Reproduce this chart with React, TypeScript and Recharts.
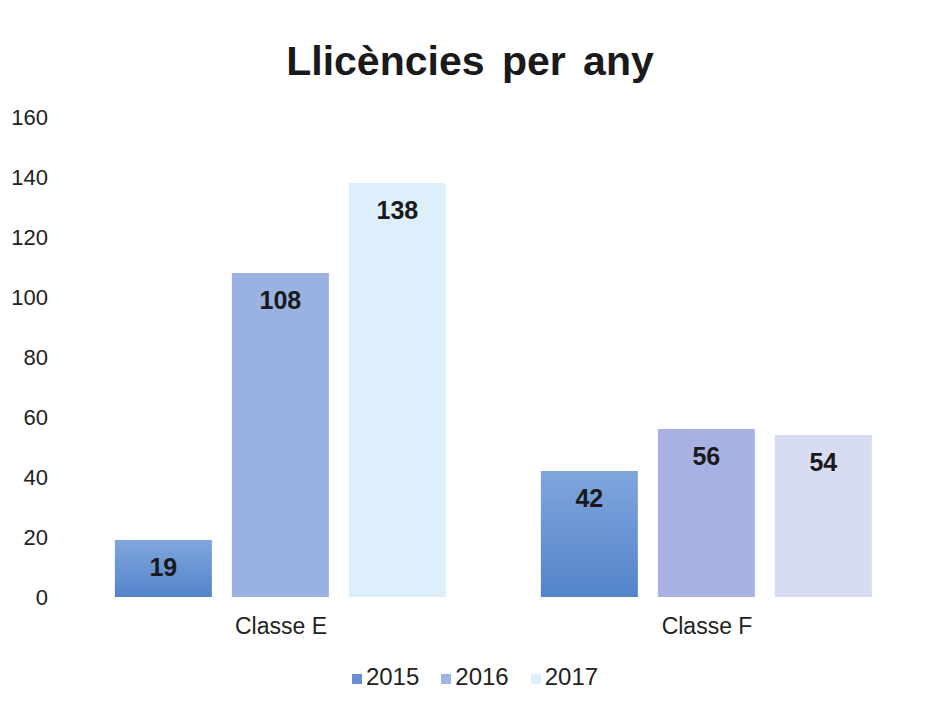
import { useEffect } from 'react';
import { BarChart, Bar, XAxis, YAxis, Legend, Cell, LabelList } from 'recharts';

const categories = ['Classe E', 'Classe F'];
const years = ['2015', '2016', '2017'];
const values2015 = [19, 42];
const values2016 = [108, 56];
const values2017 = [138, 54];
const yTicks = [0, 20, 40, 60, 80, 100, 120, 140, 160];

// fill per year, then per category (the scan shifts hue between groups)
const FILLS: Record<string, string[]> = {
  '2015': ['url(#g2015)', 'url(#g2015)'],
  '2016': ['#99B2E1', '#A7B2E2'],
  '2017': ['#DCEFFB', '#D8DCF3'],
};
const LEGEND_COLORS: Record<string, string> = {
  '2015': '#6690D1',
  '2016': '#9DB5E3',
  '2017': '#DDEFFB',
};

const FONT = '"Liberation Sans", Arial, sans-serif';

export default function App() {
  useEffect(() => {
    document.body.style.margin = '0';
  }, []);

  const data = categories.map((c, i) => ({
    name: c,
    '2015': values2015[i],
    '2016': values2016[i],
    '2017': values2017[i],
  }));

  return (
    <div style={{ position: 'relative', width: 940, height: 706, background: '#fff', fontFamily: FONT }}>
      <div
        style={{
          position: 'absolute',
          top: 38,
          left: 0,
          width: 940,
          textAlign: 'center',
          fontSize: 41,
          fontWeight: 'bold',
          color: '#1a1a1a',
          wordSpacing: 6,
        }}
      >
        Llicències per any
      </div>
      <BarChart
        width={940}
        height={706}
        data={data}
        margin={{ top: 117, right: 20, bottom: 15, left: 0 }}
        barGap={20}
        barCategoryGap="11%"
      >
        <defs>
          <linearGradient id="g2015" x1="0" y1="0" x2="0" y2="1">
            <stop offset="0%" stopColor="#80A6DD" />
            <stop offset="100%" stopColor="#5384CA" />
          </linearGradient>
        </defs>
        <YAxis
          width={68}
          domain={[0, 160]}
          ticks={yTicks}
          axisLine={false}
          tickLine={false}
          tickMargin={14}
          tick={{ fill: '#222', fontSize: 22, fontFamily: FONT }}
        />
        <XAxis
          dataKey="name"
          axisLine={false}
          tickLine={false}
          height={66}
          tickMargin={15}
          tick={{ fill: '#222', fontSize: 23, fontFamily: FONT }}
        />
        <Legend
          verticalAlign="bottom"
          align="center"
          iconType="square"
          iconSize={10}
          wrapperStyle={{ fontFamily: FONT, fontSize: 24, left: 26 }}
          formatter={(v: string) => <span style={{ color: '#222', marginRight: 12 }}>{v}</span>}
        />
        {years.map((y) => (
          <Bar key={y} dataKey={y} fill={LEGEND_COLORS[y]} isAnimationActive={false}>
            {data.map((_, i) => (
              <Cell key={i} fill={FILLS[y][i]} />
            ))}
            <LabelList
              dataKey={y}
              position="insideTop"
              offset={18}
              style={{ fill: '#1a1a1a', fontSize: 25, fontWeight: 'bold', fontFamily: FONT }}
            />
          </Bar>
        ))}
      </BarChart>
    </div>
  );
}
